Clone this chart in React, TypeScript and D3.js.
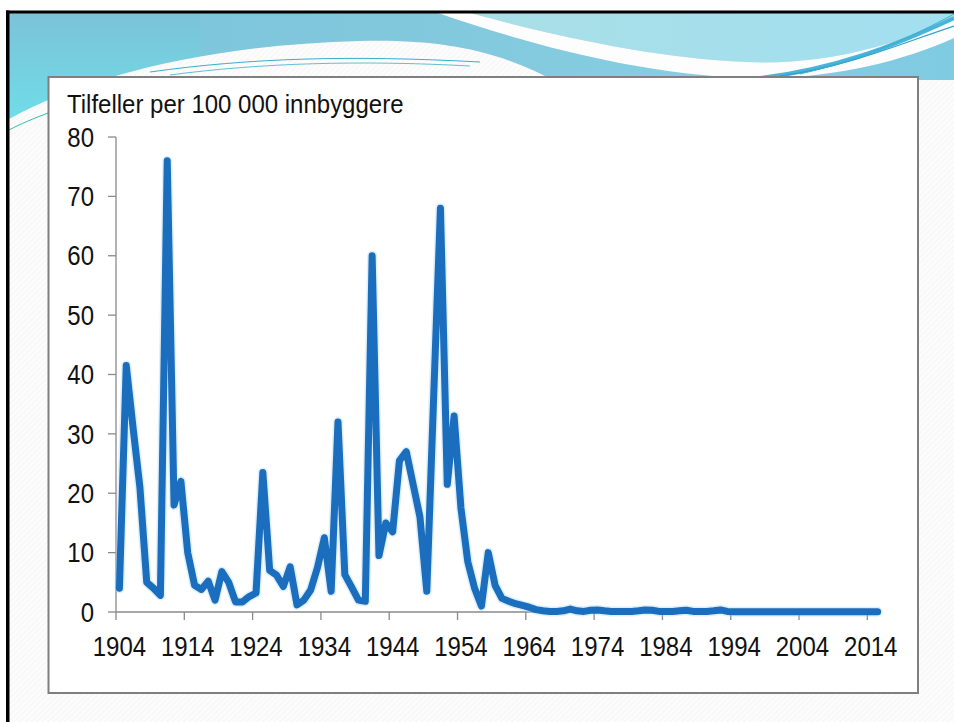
import React from "react";
import * as d3 from "d3";

// Categories (years) and values: cases per 100 000 inhabitants
const startYear = 1904;
const endYear = 2015;
const years: number[] = d3.range(startYear, endYear + 1);
const values: number[] = [
  4, 41.5, 31, 21, 5, 4, 2.8, 76, 18, 22, // 1904-1913
  10, 4.5, 3.8, 5.2, 2, 6.8, 5, 1.7, 1.7, 2.6, // 1914-1923
  3.2, 23.5, 7, 6.2, 4.3, 7.6, 1.2, 2, 3.7, 7.5, // 1924-1933
  12.5, 3.5, 32, 6.3, 4.2, 2, 1.8, 60, 9.5, 15, // 1934-1943
  13.5, 25.5, 27, 21.5, 16, 3.5, 36, 68, 21.5, 33, // 1944-1953
  17.5, 8.5, 4, 1, 10, 4.5, 2.3, 1.8, 1.4, 1.1, // 1954-1963
  0.8, 0.4, 0.2, 0.1, 0.1, 0.2, 0.5, 0.2, 0.1, 0.3, // 1964-1973
  0.35, 0.2, 0.1, 0.1, 0.1, 0.1, 0.2, 0.35, 0.3, 0.1, // 1974-1983
  0.1, 0.1, 0.2, 0.3, 0.1, 0.1, 0.1, 0.2, 0.35, 0.1, // 1984-1993
  0.05, 0.05, 0.05, 0.05, 0.05, 0.05, 0.05, 0.05, 0.05, 0.05, // 1994-2003
  0.05, 0.05, 0.05, 0.05, 0.05, 0.05, 0.05, 0.05, 0.05, 0.05, // 2004-2013
  0.05, 0.05, // 2014-2015
];
const yTicks: number[] = [0, 10, 20, 30, 40, 50, 60, 70, 80];
const xTickYears: number[] = [1904, 1914, 1924, 1934, 1944, 1954, 1964, 1974, 1984, 1994, 2004, 2014];
const yAxisTitle = "Tilfeller per 100 000 innbyggere";

const W = 954;
const H = 722;
const plotLeft = 116;
const plotRight = 881;
const plotTop = 137;
const plotBottom = 612;

const FONT = "'Liberation Sans', Arial, Helvetica, sans-serif";

export default function App() {
  const x = d3.scaleBand<number>().domain(years).range([plotLeft, plotRight]).padding(0);
  const y = d3.scaleLinear().domain([0, 80]).range([plotBottom, plotTop]);
  const bw = x.bandwidth();

  const line = d3
    .line<number>()
    .x((_, i) => (x(years[i]) as number) + bw / 2)
    .y((d) => y(d));
  const pathD = line(values) || "";

  return (
    <svg
      width={W}
      height={H}
      viewBox={`0 0 ${W} ${H}`}
      style={{ position: "absolute", left: 0, top: 0, display: "block", background: "#fff" }}
    >
      <defs>
        <pattern id="hatch" width="4" height="4" patternUnits="userSpaceOnUse" patternTransform="rotate(45)">
          <rect width="4" height="4" fill="#fcfcfc" />
          <line x1="0" y1="0" x2="0" y2="4" stroke="#f1f1f1" strokeWidth="1" />
        </pattern>
        <linearGradient id="bandGrad" x1="0" y1="0" x2="1" y2="0">
          <stop offset="0" stopColor="#7bc6da" />
          <stop offset="0.35" stopColor="#80c7dc" />
          <stop offset="0.7" stopColor="#86cde1" />
          <stop offset="1" stopColor="#7fcbe2" />
        </linearGradient>
        <linearGradient id="leftGrad" x1="0" y1="0" x2="0" y2="1">
          <stop offset="0" stopColor="#7cc2d8" />
          <stop offset="1" stopColor="#6fdde8" />
        </linearGradient>
        <linearGradient id="topRightGrad" x1="0" y1="0" x2="1" y2="0">
          <stop offset="0" stopColor="#a9dfe6" />
          <stop offset="1" stopColor="#a2dff0" />
        </linearGradient>
      </defs>

      {/* slide background */}
      <rect x={9} y={13} width={W - 9} height={H - 13} fill="url(#hatch)" />

      {/* top decorative band */}
      <rect x={9} y={13} width={W - 9} height={70} fill="url(#bandGrad)" />
      <path d="M9,13 L200,13 L200,80 C150,85 60,100 9,120 Z" fill="url(#leftGrad)" />
      {/* white hump */}
      <path
        d="M9,119 C90,75 210,45 360,41 C440,39 500,50 560,84 L560,140 L9,140 Z"
        fill="url(#hatch)"
      />
      {/* light top-right area above swoosh */}
      <path d="M470,13 C570,40 660,58 745,62 C830,66 900,42 954,20 L954,13 Z" fill="url(#topRightGrad)" />
      {/* white swoosh */}
      <path
        d="M438,13 L470,13 C570,40 660,58 745,62 C830,66 900,42 954,20 L954,38 C900,62 830,80 745,78 C640,74 530,45 438,13 Z"
        fill="#fdfdfd"
      />
      {/* blue stripes at right */}
      <path d="M760,78 C830,70 890,48 954,18" fill="none" stroke="#49b4d8" strokeWidth={4} />
      <path d="M780,76 C850,66 905,42 954,26" fill="none" stroke="#2fa0cf" strokeWidth={1.2} />
      <path d="M800,74 C860,60 910,38 954,14" fill="none" stroke="#3bb0d6" strokeWidth={1} />
      {/* thin lines over hump */}
      <path d="M150,72 C250,58 350,55 480,62" fill="none" stroke="#3aaecb" strokeWidth={1} />
      <path d="M170,75 C260,63 360,60 470,66" fill="none" stroke="#3aaecb" strokeWidth={0.8} />
      <path d="M9,130 C20,124 35,118 48,113" fill="none" stroke="#30c0a8" strokeWidth={1} />
      {/* white area right of chart below band */}
      <rect x={918} y={80} width={36} height={50} fill="url(#hatch)" />

      {/* slide black border */}
      <rect x={6} y={10.5} width={W - 6} height={3} fill="#000" />
      <rect x={6} y={10.5} width={3.5} height={H - 10.5} fill="#000" />

      {/* chart box */}
      <rect x={48.5} y={77} width={869.5} height={616} fill="#ffffff" stroke="#7f7f7f" strokeWidth={2} />

      {/* y axis title */}
      <g transform="translate(67,113) scale(1,1.05)">
        <text x={0} y={0} fontFamily={FONT} fontSize={24} fill="#111">
          {yAxisTitle}
        </text>
      </g>

      {/* axes */}
      <g stroke="#8a8a8a" strokeWidth={1.3} fill="none">
        <line x1={plotLeft} y1={y(80)} x2={plotLeft} y2={plotBottom} />
        <line x1={plotLeft} y1={plotBottom} x2={plotRight} y2={plotBottom} />
        {yTicks.map((t) => (
          <line key={"yt" + t} x1={plotLeft - 8} x2={plotLeft} y1={y(t)} y2={y(t)} />
        ))}
        {xTickYears.map((yr) => (
          <line key={"xt" + yr} x1={x(yr) as number} x2={x(yr) as number} y1={plotBottom} y2={plotBottom + 8} />
        ))}
      </g>

      {/* y tick labels */}
      {yTicks.map((t) => (
        <g key={"yl" + t} transform={`translate(94,${y(t)}) scale(1,1.15)`}>
          <text textAnchor="end" dy="0.35em" fontFamily={FONT} fontSize={24} fill="#111">
            {t}
          </text>
        </g>
      ))}

      {/* x tick labels */}
      {xTickYears.map((yr) => (
        <g key={"xl" + yr} transform={`translate(${(x(yr) as number) + bw / 2},646.5) scale(1,1.15)`}>
          <text textAnchor="middle" dy="0.35em" fontFamily={FONT} fontSize={24} fill="#111">
            {yr}
          </text>
        </g>
      ))}

      {/* data line */}
      <path d={pathD} fill="none" stroke="#9fd2f2" strokeOpacity={0.35} strokeWidth={10} strokeLinejoin="round" strokeLinecap="round" />
      <path d={pathD} fill="none" stroke="#1a6ebd" strokeWidth={7} strokeLinejoin="round" strokeLinecap="round" />
    </svg>
  );
}
